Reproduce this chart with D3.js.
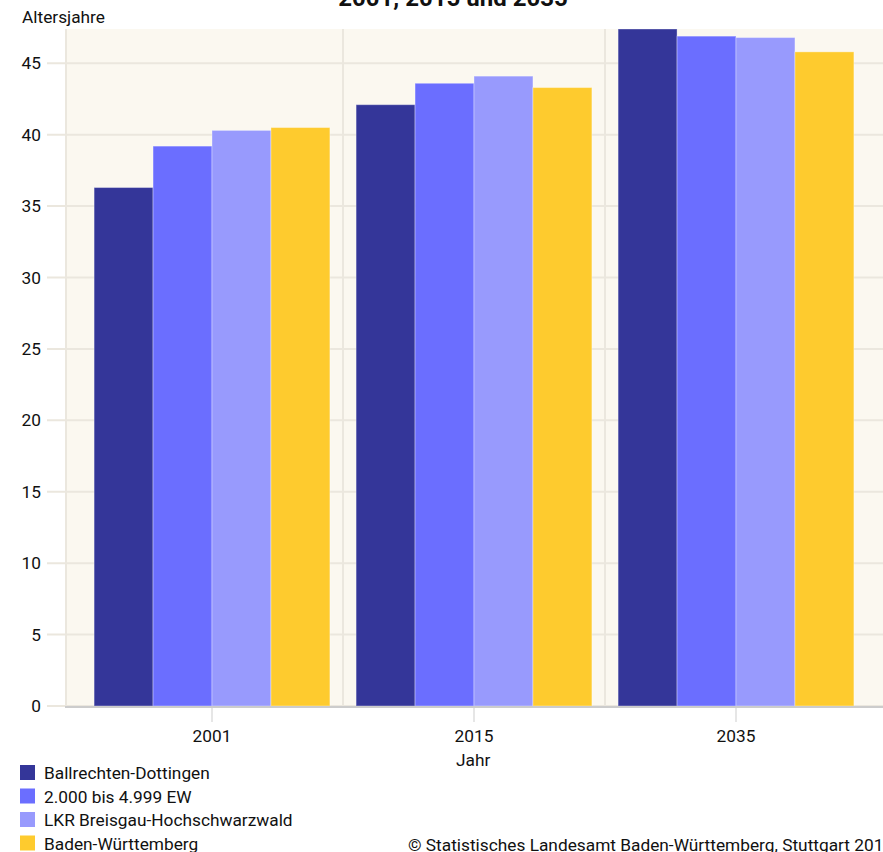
<!DOCTYPE html>
<html>
<head>
<meta charset="utf-8">
<script src="https://cdn.jsdelivr.net/npm/d3@7"></script>
<style>
  body { margin: 0; background: #fff; }
  svg { display: block; font-family: Roboto, "Liberation Sans", sans-serif; }
</style>
</head>
<body>
<div class="chart-container"></div>
<script>
//! DATA
const years = ['2001', '2015', '2035'];
const seriesNames = ['Ballrechten-Dottingen', '2.000 bis 4.999 EW', 'LKR Breisgau-Hochschwarzwald', 'Baden-Württemberg'];
const ballrechten = [36.3, 42.1, 47.6];
const gemeindegroesse = [39.2, 43.6, 46.9];
const landkreis = [40.3, 44.1, 46.8];
const bawue = [40.5, 43.3, 45.8];
const yTicks = [0, 5, 10, 15, 20, 25, 30, 35, 40, 45];
const colors = ['#343699', '#6b6eff', '#989afd', '#fecb2e'];

const seriesValues = [ballrechten, gemeindegroesse, landkreis, bawue];

//! CONSTS
const width = 883;
const height = 852;
const plotLeft = 65;
const plotRight = 890;
const plotTop = 29;
const plotBottom = 706;
const fontSize = '17.3px';

const svg = d3.select('.chart-container')
  .append('svg')
  .attr('width', width)
  .attr('height', height);

//! SCALES
const xScale = d3.scaleBand()
  .domain(years)
  .range([81, 867])
  .paddingInner(0.1)
  .paddingOuter(0.05);

const xInner = d3.scaleBand()
  .domain(seriesNames)
  .range([0, xScale.bandwidth()]);

const yScale = d3.scaleLinear()
  .domain([0, 47.4])
  .range([plotBottom, plotTop]);

// plot background
svg.append('rect')
  .attr('x', plotLeft)
  .attr('y', plotTop)
  .attr('width', plotRight - plotLeft)
  .attr('height', plotBottom - plotTop)
  .attr('fill', '#fbf8f0');

//! GRID
svg.append('g')
  .selectAll('line')
  .data(yTicks)
  .enter()
  .append('line')
  .attr('x1', 47)
  .attr('x2', plotRight)
  .attr('y1', d => yScale(d))
  .attr('y2', d => yScale(d))
  .attr('stroke', '#ebe7de')
  .attr('stroke-width', 2);

// vertical lines between year groups
const step = xScale.step();
const boundaries = [plotLeft + 1].concat(years.slice(1).map(y => xScale(y) - step * xScale.paddingInner() / 2));
svg.append('g')
  .selectAll('line')
  .data(boundaries)
  .enter()
  .append('line')
  .attr('x1', d => d)
  .attr('x2', d => d)
  .attr('y1', plotTop)
  .attr('y2', plotBottom)
  .attr('stroke', '#ebe7de')
  .attr('stroke-width', 2);

//! BARS
const groups = svg.append('g')
  .selectAll('g')
  .data(years)
  .enter()
  .append('g')
  .attr('transform', d => `translate(${xScale(d)},0)`);

groups.selectAll('rect')
  .data((d, i) => seriesNames.map((name, j) => ({ name, value: seriesValues[j][i], color: colors[j] })))
  .enter()
  .append('rect')
  .attr('x', d => xInner(d.name))
  .attr('y', d => Math.max(yScale(d.value), plotTop))
  .attr('width', xInner.bandwidth())
  .attr('height', d => plotBottom - Math.max(yScale(d.value), plotTop))
  .attr('fill', d => d.color)
  .attr('stroke', 'rgba(255,255,255,0.35)')
  .attr('stroke-width', 1);

//! AXES
const xAxis = svg.append('g')
  .attr('transform', `translate(0,${plotBottom})`)
  .call(d3.axisBottom(xScale).tickSize(16).tickPadding(8));
xAxis.select('.domain').remove();
xAxis.selectAll('.tick line').attr('stroke', '#e6e6e6').attr('stroke-width', 2);
xAxis.selectAll('.tick text')
  .attr('fill', '#111')
  .style('font-size', fontSize)
  .style('font-family', 'Roboto, sans-serif');

svg.append('line')
  .attr('x1', plotLeft)
  .attr('x2', plotRight)
  .attr('y1', plotBottom + 1)
  .attr('y2', plotBottom + 1)
  .attr('stroke', '#cccccc')
  .attr('stroke-width', 2);

const yAxis = svg.append('g')
  .attr('transform', 'translate(41,0)')
  .call(d3.axisLeft(yScale).tickValues(yTicks).tickSize(0).tickPadding(0));
yAxis.select('.domain').remove();
yAxis.selectAll('.tick text')
  .attr('fill', '#111')
  .style('font-size', fontSize)
  .style('font-family', 'Roboto, sans-serif');

//! TEXTS
svg.append('text')
  .attr('x', 453)
  .attr('y', 6)
  .attr('text-anchor', 'middle')
  .style('font-size', '24px')
  .style('font-weight', 'bold')
  .attr('fill', '#111')
  .text('2001, 2015 und 2035');

svg.append('text')
  .attr('x', 22)
  .attr('y', 23)
  .style('font-size', fontSize)
  .attr('fill', '#111')
  .text('Altersjahre');

svg.append('text')
  .attr('x', xScale('2015') + xScale.bandwidth() / 2 - 18)
  .attr('y', 766)
  .style('font-size', fontSize)
  .attr('fill', '#111')
  .text('Jahr');

//! LEGEND
const legend = svg.append('g')
  .selectAll('g')
  .data(seriesNames)
  .enter()
  .append('g')
  .attr('transform', (d, i) => `translate(20,${765 + i * 23.5})`);

legend.append('rect')
  .attr('width', 15)
  .attr('height', 15)
  .attr('fill', (d, i) => colors[i]);

legend.append('text')
  .attr('x', 24)
  .attr('y', 14)
  .style('font-size', fontSize)
  .attr('fill', '#111')
  .text(d => d);

svg.append('text')
  .attr('x', 408)
  .attr('y', 851)
  .style('font-size', fontSize)
  .attr('fill', '#111')
  .text('© Statistisches Landesamt Baden-Württemberg, Stuttgart 2017');
</script>
</body>
</html>
